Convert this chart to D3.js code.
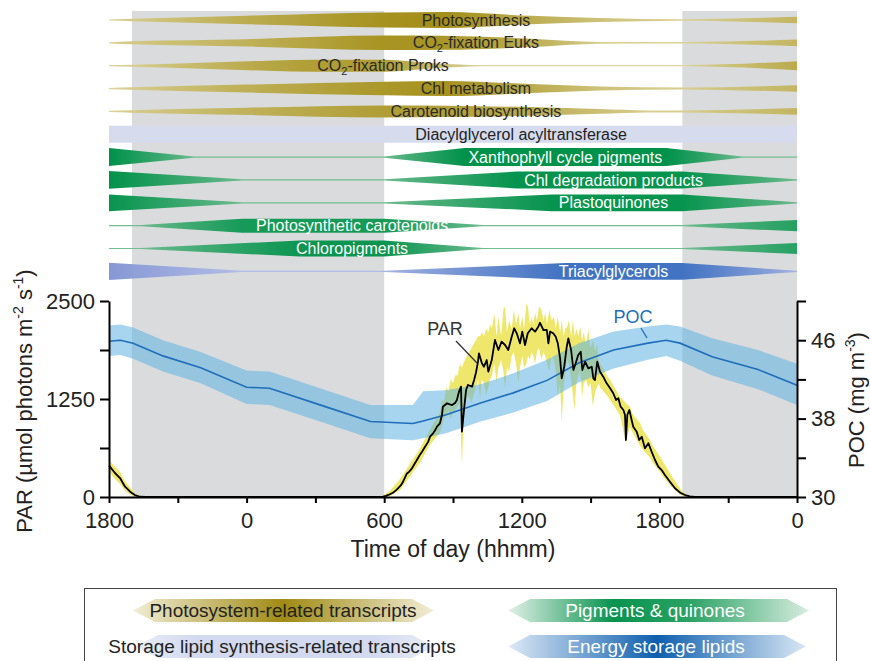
<!DOCTYPE html>
<html><head><meta charset="utf-8">
<script src="https://cdn.jsdelivr.net/npm/d3@7"></script>
<style>
body{margin:0;background:#fff}
svg{display:block;font-family:"Liberation Sans",Arial,Helvetica,sans-serif}
</style>
</head><body>
<svg id="c" width="870" height="661"></svg>
<script>
// ---------------- DATA ----------------
// time axis: hours since 18:00 of day 1
const timeTicks = [0,3,6,9,12,15,18,21,24,27,30];
const timeTickLabels = {0:"1800",6:"0",12:"600",18:"1200",24:"1800",30:"0"};
const parTicks = [0,625,1250,1875,2500];
const parTickLabels = [0,1250,2500];
const pocTicks = [30,34,38,42,46,50];
const pocTickLabels = [30,38,46];
const nights = [[1,12],[25,30]];

// PAR (µmol photons m-2 s-1)
const parT = [0,0.04,0.26,0.48,0.70,0.92,1.13,1.35,1.6,11.9,
 11.95,12.08,12.25,12.38,12.51,12.60,12.73,12.82,12.91,12.99,
 13.08,13.21,13.34,13.47,13.56,13.65,13.78,13.91,14.00,14.13,
 14.22,14.30,14.43,14.52,14.56,14.74,14.87,14.96,15.09,15.17,
 15.26,15.35,15.39,15.48,15.57,15.65,15.83,15.92,16.00,16.09,
 16.13,16.26,16.35,16.47,16.54,16.69,16.83,16.98,17.12,17.27,
 17.41,17.56,17.67,17.78,17.92,18.02,18.14,18.26,18.43,18.58,
 18.72,18.79,18.94,19.09,19.16,19.23,19.37,19.48,19.57,19.67,
 19.74,19.85,19.96,20.03,20.15,20.25,20.35,20.46,20.57,20.64,
 20.76,20.90,21.05,21.12,21.19,21.29,21.41,21.55,21.70,21.85,
 21.99,22.11,22.21,22.31,22.43,22.50,22.54,22.60,22.69,22.79,
 22.86,23.01,23.12,23.23,23.37,23.52,23.66,23.81,23.95,24.10,
 24.24,24.46,24.68,24.90,25.12,25.33,25.55,30];
const parV = [400,387,306,242,131,68,25,3,0,0,
 5,15,35,55,85,111,150,195,250,300,
 320,366,430,494,540,578,642,700,770,812,
 850,897,940,1050,1152,1195,1180,1173,1200,1237,
 1343,1407,833,1110,1365,1429,1407,1492,1585,1726,
 1833,1705,1662,1747,1598,1747,2003,1875,1981,1939,
 1875,2045,2152,2088,1960,2109,1939,2088,2152,2109,
 2172,2223,2130,2130,1960,2109,2088,2045,1960,1769,
 1514,1662,1917,2024,1875,1620,1705,1811,1853,1620,
 1726,1641,1662,1514,1492,1726,1598,1535,1450,1386,
 1322,1237,1259,1152,1110,1046,727,1046,1110,982,
 897,833,727,769,621,685,578,472,387,344,
 281,195,111,55,25,8,0,0];
// PAR range envelope: [hour, high, low]
const parRange = [
 [0,470,330],[0.26,390,230],[0.48,320,170],[0.70,200,80],[0.92,120,30],[1.13,50,5],[1.35,10,0],[1.6,0,0],
 [11.9,0,0],[11.95,20,0],[12.25,80,10],[12.69,230,90],[13.12,420,260],[13.56,620,440],[14.00,860,670],
 [14.43,1080,820],[14.52,1250,900],[14.60,1200,1000],[14.70,1400,1050],[14.80,1350,1100],[14.90,1500,1000],
 [15.00,1450,1080],[15.09,1550,1100],[15.20,1550,1150],[15.30,1700,1200],[15.39,1650,390],[15.45,1700,900],
 [15.52,1750,1150],[15.60,1800,1250],[15.70,1850,1300],[15.80,1900,1200],[15.90,1950,1300],[16.00,2000,1400],
 [16.09,2050,1500],[16.18,2050,1250],[16.26,2100,1500],[16.35,2050,1450],[16.45,2150,1300],[16.54,2100,1400],
 [16.62,2200,1500],[16.70,2150,1550],[16.80,2343,1700],[16.90,2050,1450],[16.98,2300,1650],[17.10,2050,1750],
 [17.20,2400,1600],[17.27,2427,1365],[17.35,2100,1650],[17.45,2250,1600],[17.56,2150,1800],[17.65,2385,1850],
 [17.75,2200,1700],[17.85,2343,1450],[17.92,2150,1650],[18.02,2300,1800],[18.10,2150,1650],[18.20,2470,1700],
 [18.27,2420,1800],[18.35,2200,1750],[18.43,2300,1850],[18.50,2200,1800],[18.58,2350,1700],[18.66,2250,1850],
 [18.75,2427,1900],[18.85,2400,1750],[18.94,2250,1850],[19.02,2350,1800],[19.10,2200,1700],[19.20,2385,1600],
 [19.30,2250,1800],[19.40,2300,1750],[19.48,2150,1600],[19.57,2300,1280],[19.67,2100,1450],[19.74,2258,944],
 [19.82,2050,1400],[19.90,2150,1600],[19.98,2172,1750],[20.05,2250,1700],[20.15,2050,1500],[20.23,2258,1300],
 [20.30,2050,1110],[20.38,2150,1450],[20.46,2050,1550],[20.55,2172,1600],[20.63,2000,1280],[20.70,2100,1450],
 [20.80,1950,1500],[20.90,2130,1400],[21.00,1900,1450],[21.10,2003,1152],[21.20,1850,1350],[21.28,1950,1400],
 [21.35,1750,1450],[21.41,1700,1400],[21.55,1650,1350],[21.70,1550,1300],[21.85,1492,1237],
 [22.28,1280,1046],[22.54,1200,685],[22.71,1152,900],[22.85,1050,812],[23.16,940,650],[23.29,850,600],
 [23.59,727,500],[23.72,650,429],[24.03,514,320],[24.16,450,259],[24.46,302,150],[24.60,240,111],
 [24.90,111,30],[25.03,60,15],[25.20,25,5],[25.40,5,0],[25.80,0,0],[30,0,0]];

// POC (mg m-3)
const pocT  = [0,0.5,1.05,2.35,4.0,6.0,7.0,9.2,11.4,13.25,13.7,14.7,16.2,17.6,19.1,20.5,22.0,23.5,24.3,24.9,26.3,28.3,30];
const pocV  = [45.9,46.0,45.7,44.4,43.2,41.2,41.1,39.4,37.7,37.5,37.75,38.4,39.6,40.6,41.9,43.7,45.0,45.7,46.0,45.7,44.3,43.0,41.4];
const pocHi = [47.5,47.6,47.3,46.0,44.8,42.9,42.8,41.1,39.4,39.4,40.8,40.9,41.5,42.6,44.0,45.7,46.9,47.4,47.6,47.4,46.2,45.0,43.6];
const pocLo = [44.4,44.5,44.1,42.8,41.6,39.5,39.4,37.7,36.0,35.8,36.0,36.5,37.7,38.6,39.8,41.7,43.1,44.0,44.4,43.9,42.4,41.0,39.4];

// relative abundance profiles of transcripts / compounds (0..1)
const photoT = [0,1,6,12,14.7,18.4,21.4,25,30],          photoV = [0,0.08,0.44,0.82,0.88,0.43,0.17,0.02,0.32];
const euksT  = [0,1,6,12,14.5,18.4,21.4,25,30],          euksV  = [0,0.11,0.37,0.79,0.76,0.43,0.04,0.02,0.32];
const proksT = [0,1,6.9,9,12,14.2,16.3,25,30],           proksV = [0,0.05,0.52,0.64,0.64,0.23,0,0,0.46];
const chlmT  = [0,1,6,12,14.7,18.4,21.4,25,30],          chlmV  = [0,0.07,0.40,0.73,0.82,0.46,0.17,0.05,0.32];
const caroT  = [0,1,6,12,14.7,18.4,21.4,23.5,25,30],     caroV  = [0,0.08,0.37,0.64,0.61,0.44,0.2,0.05,0.05,0.32];
const dgatT  = [0,30],                                   dgatV  = [0.94,0.94];
const xanT   = [0,3.7,12,15.5,24.3,27.6,30],             xanV   = [1,0,0,1,1,0,0];
const chldT  = [0,5.8,12,17.8,25,30],                    chldV  = [0.98,0,0,0.94,0.94,0];
const plqT   = [0,5.8,12,19.3,25,30],                    plqV   = [0.92,0,0,0.92,0.92,0];
const pcarT  = [0,1.4,5.8,12,16.3,25,30],                pcarV  = [0,0,0.76,0.76,0,0,0.61];
const chlpT  = [0,1.4,8.3,12,16.3,25,30],                chlpV  = [0,0,0.88,0.88,0,0,0.58];
const tagT   = [0,5.8,12,19.9,25,30],                    tagV   = [0.96,0,0,0.92,0.92,0];

const bandLabels = ["Photosynthesis","CO2-fixation Euks","CO2-fixation Proks","Chl metabolism","Carotenoid biosynthesis",
  "Diacylglycerol acyltransferase","Xanthophyll cycle pigments","Chl degradation products","Plastoquinones",
  "Photosynthetic carotenoids","Chloropigments","Triacylglycerols"];
const bandT = [photoT,euksT,proksT,chlmT,caroT,dgatT,xanT,chldT,plqT,pcarT,chlpT,tagT];
const bandV = [photoV,euksV,proksV,chlmV,caroV,dgatV,xanV,chldV,plqV,pcarV,chlpV,tagV];
const bandGroup = ["olive","olive","olive","olive","olive","lav","green","green","green","green","green","blue"];

const legendLabels = ["Photosystem-related transcripts","Pigments & quinones","Storage lipid synthesis-related transcripts","Energy storage lipids"];

// ---------------- LAYOUT / STYLE ----------------
const labelAtHour = [16.0,16.0,11.95,16.0,16.0,17.97,19.9,22.0,22.0,10.6,10.6,22.0];
const groupColors = {olive:["#ddd59e","#9c8608"], green:["#72bd92","#00914a"], blue:["#a9b6e3","#3a6ec0"], lav:["#d6dcee","#d6dcee"]};
const groupText = {olive:"#2a2a2a", lav:"#222", green:"#fff", blue:"#fff"};

const svg = d3.select("#c");
const defs = svg.append("defs");
const x = d3.scaleLinear().domain([0,30]).range([109,797]);
const yPar = d3.scaleLinear().domain([0,2500]).range([497,301]);
const yPoc = d3.scaleLinear().domain([30,50]).range([497,301]);
const hw = d3.scaleLinear().domain([0,1]).range([0.6,9]);
const rowY = i => 20 + i*22.85;

// night shading
svg.append("g").selectAll("rect").data(nights).join("rect")
  .attr("x", d=>x(d[0])).attr("width", d=>x(d[1])-x(d[0]))
  .attr("y", 11).attr("height", 497-11).attr("fill", "#dadbdd");

// bands
const bandG = svg.append("g");
bandLabels.forEach((lab,i)=>{
  const T = bandT[i], V = bandV[i], grp = bandGroup[i];
  const prof = d3.scaleLinear().domain(T).range(V).clamp(true);
  const [lc, dc] = groupColors[grp];
  const gid = "bg"+i;
  const grad = defs.append("linearGradient").attr("id",gid)
    .attr("gradientUnits","userSpaceOnUse").attr("x1",x(0)).attr("x2",x(30)).attr("y1",0).attr("y2",0);
  for (let t=0; t<=30.0001; t+=0.25){
    const r = prof(t);
    let col;
    if (grp==="blue" && t<12) col = d3.interpolateRgb("#b2bde7","#8596d3")(r);
    else col = d3.interpolateRgb(lc, dc)(Math.pow(r,0.8));
    grad.append("stop").attr("offset", t/30).attr("stop-color", col);
  }
  const cy = rowY(i);
  const pts = T.map((t,k)=>({t, v:V[k]}));
  const area = d3.area().x(d=>x(d.t)).y0(d=>cy-hw(d.v)).y1(d=>cy+hw(d.v))
     .curve(grp==="olive" ? d3.curveMonotoneX : d3.curveLinear);
  bandG.append("path").attr("d", area(pts)).attr("fill", `url(#${gid})`);
  const txt = bandG.append("text").attr("x", x(labelAtHour[i])).attr("y", cy).attr("dy","0.35em")
     .attr("text-anchor","middle").attr("font-size",16).attr("fill", groupText[grp]);
  if (lab.startsWith("CO2")) {
    txt.append("tspan").text("CO");
    txt.append("tspan").attr("font-size",11).attr("dy",4).text("2");
    txt.append("tspan").attr("dy",-4).text(lab.slice(3));
  } else txt.text(lab);
});

// PAR envelope
svg.append("path")
  .attr("d", d3.area().x(d=>x(d[0])).y0(d=>yPar(d[2])).y1(d=>yPar(d[1]))(parRange))
  .attr("fill","#efe76c");

// POC band
const pocPts = pocT.map((t,k)=>({t, v:pocV[k], hi:pocHi[k], lo:pocLo[k]}));
svg.append("path")
  .attr("d", d3.area().x(d=>x(d.t)).y0(d=>yPoc(d.lo)).y1(d=>yPoc(d.hi))(pocPts))
  .attr("fill","#5fb3e2").attr("fill-opacity",0.55);
svg.append("path")
  .attr("d", d3.line().x(d=>x(d.t)).y(d=>yPoc(d.v))(pocPts))
  .attr("fill","none").attr("stroke","#1f6dbb").attr("stroke-width",1.6);

// PAR line
const parPts = parT.map((t,k)=>({t, v:parV[k]}));
svg.append("path")
  .attr("d", d3.line().x(d=>x(d.t)).y(d=>yPar(d.v))(parPts))
  .attr("fill","none").attr("stroke","#000").attr("stroke-width",1.8).attr("stroke-linejoin","round");

// series labels
svg.append("text").attr("x",445).attr("y",335).attr("text-anchor","middle").attr("font-size",18).attr("fill","#333").text("PAR");
svg.append("line").attr("x1",456).attr("y1",341).attr("x2",477).attr("y2",363).attr("stroke","#333").attr("stroke-width",1.3);
svg.append("text").attr("x",633).attr("y",323).attr("text-anchor","middle").attr("font-size",18).attr("fill","#1f6dbb").text("POC");
svg.append("line").attr("x1",641).attr("y1",328).attr("x2",647).attr("y2",338).attr("stroke","#1f6dbb").attr("stroke-width",1.3);

// axes
function styleAxis(g){
  g.select(".domain").attr("stroke","#000").attr("stroke-width",2);
  g.selectAll(".tick line").attr("stroke","#000").attr("stroke-width",2);
  g.selectAll(".tick text").attr("font-size",22).attr("fill","#222")
   .attr("font-family",'"Liberation Sans",Arial,sans-serif');
}
svg.append("g").attr("transform","translate(109,0)")
  .call(d3.axisLeft(yPar).tickValues(parTicks).tickSize(9).tickSizeOuter(0).tickPadding(5)
     .tickFormat(d=>parTickLabels.includes(d)? d : ""))
  .call(styleAxis);
svg.append("g").attr("transform","translate(797,0)")
  .call(d3.axisRight(yPoc).tickValues(pocTicks).tickSize(9).tickSizeOuter(0).tickPadding(5)
     .tickFormat(d=>pocTickLabels.includes(d)? d : ""))
  .call(styleAxis);
svg.append("g").attr("transform","translate(0,497)")
  .call(d3.axisBottom(x).tickValues(timeTicks).tickSize(6).tickSizeOuter(0).tickPadding(9)
     .tickFormat(d=>timeTickLabels[d] ?? ""))
  .call(styleAxis);

// axis titles
svg.append("text").attr("x",453).attr("y",557).attr("text-anchor","middle").attr("font-size",23).attr("fill","#222")
  .text("Time of day (hhmm)");
const yl = svg.append("text").attr("transform","translate(32,401) rotate(-90)").attr("text-anchor","middle")
  .attr("font-size",22).attr("fill","#222");
yl.append("tspan").text("PAR (µmol photons m");
yl.append("tspan").attr("font-size",14).attr("dy",-9).text("-2");
yl.append("tspan").attr("dy",9).text(" s");
yl.append("tspan").attr("font-size",14).attr("dy",-9).text("-1");
yl.append("tspan").attr("dy",9).text(")");
const yr = svg.append("text").attr("transform","translate(864,400) rotate(-90)").attr("text-anchor","middle")
  .attr("font-size",22).attr("fill","#222");
yr.append("tspan").text("POC (mg m");
yr.append("tspan").attr("font-size",14).attr("dy",-9).text("-3");
yr.append("tspan").attr("dy",9).text(")");

// legend
svg.append("rect").attr("x",84.5).attr("y",588.5).attr("width",752).attr("height",100)
  .attr("fill","none").attr("stroke","#444").attr("stroke-width",1);
const legShapes = [
  {x0:133,x1:434,cy:610.5,stops:[[0,"#f1edd6"],[0.5,"#a08a12"],[1,"#f1edd6"]],tc:"#222",lab:0,tx:283},
  {x0:508,x1:809,cy:610.5,stops:[[0,"#e2f1e7"],[0.35,"#08934f"],[0.6,"#2aa264"],[1,"#d7ecdf"]],tc:"#fff",lab:1,tx:655},
  {x0:136,x1:434,cy:646.5,stops:[[0,"#e8ecf7"],[0.2,"#d3daef"],[0.8,"#d3daef"],[1,"#e8ecf7"]],tc:"#222",lab:2,tx:282},
  {x0:508,x1:806,cy:646.5,stops:[[0,"#dde9f6"],[0.5,"#0e5fae"],[1,"#d9e7f5"]],tc:"#fff",lab:3,tx:656}
];
legShapes.forEach((s,i)=>{
  const g = defs.append("linearGradient").attr("id","lg"+i).attr("x1",0).attr("x2",1).attr("y1",0).attr("y2",0);
  s.stops.forEach(st=>g.append("stop").attr("offset",st[0]).attr("stop-color",st[1]));
  const h=11.5, tip=22;
  const p = [[s.x0,s.cy],[s.x0+tip,s.cy-h],[s.x1-tip,s.cy-h],[s.x1,s.cy],[s.x1-tip,s.cy+h],[s.x0+tip,s.cy+h]];
  svg.append("path").attr("d", d3.line()(p)+"Z").attr("fill",`url(#lg${i})`);
  svg.append("text").attr("x",s.tx).attr("y",s.cy).attr("dy","0.35em").attr("text-anchor","middle")
    .attr("font-size",19).attr("fill",s.tc).text(legendLabels[s.lab]);
});
</script>
</body></html>
